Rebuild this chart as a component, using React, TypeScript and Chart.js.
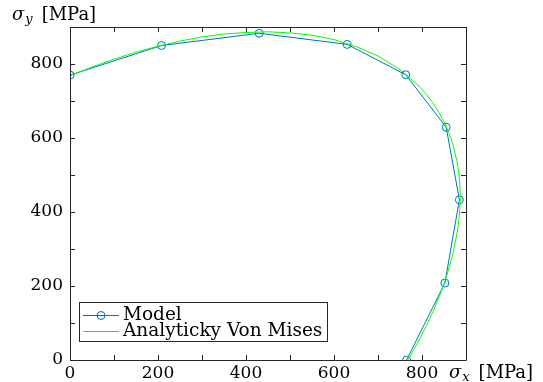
import { useEffect, useRef } from 'react';
import { Chart, registerables } from 'chart.js';

Chart.register(...registerables);

// Model (FEM) points
const modelX = [0, 208, 430, 630, 763, 855, 885, 852, 765];
const modelY = [770, 850, 883, 853, 771, 629, 433, 208, 0];

// Analytic Von Mises curve
const vmX = [0, 50, 100, 150, 200, 250, 300, 350, 400, 450, 500, 550, 600, 650, 700, 750, 790, 810, 825, 840, 850, 860, 870, 880, 884, 886, 887, 886, 884, 880, 870, 860, 850, 840, 825, 810, 800, 790, 780, 775, 768];
const vmY = [768, 792, 813, 832, 848, 862, 873, 881, 885, 887, 884, 878, 866, 847, 822, 785, 744, 718, 694, 666, 644, 617, 584, 535, 503, 476, 443, 410, 381, 345, 286, 243, 206, 174, 131, 92, 69, 46, 25, 14, 0];

const xTicks = [0, 100, 200, 300, 400, 500, 600, 700, 800, 900];
const yTicks = [0, 100, 200, 300, 400, 500, 600, 700, 800, 900];
const labeledTicks = [0, 200, 400, 600, 800];

const seriesNames = ['Model', 'Analyticky Von Mises'];
const axisUnit = '[MPa]';

const BLUE = '#0072BD';
const GREEN = '#00FF00';
const AXIS = '#262626';
const FONT = '"DejaVu Serif"';

const overlay = {
  id: 'matlabOverlay',
  afterDraw(chart: any) {
    const ctx = chart.ctx as CanvasRenderingContext2D;
    const { left, right, top, bottom } = chart.chartArea;
    const xs = chart.scales.x;
    const ys = chart.scales.y;
    ctx.save();
    // box
    ctx.strokeStyle = AXIS;
    ctx.lineWidth = 1;
    ctx.beginPath();
    ctx.rect(Math.round(left) + 0.5, Math.round(top) + 0.5, Math.round(right - left), Math.round(bottom - top));
    ctx.stroke();
    // inward ticks
    const tl = 5;
    ctx.beginPath();
    for (const v of xTicks) {
      const px = Math.round(xs.getPixelForValue(v)) + 0.5;
      ctx.moveTo(px, bottom);
      ctx.lineTo(px, bottom - tl);
      ctx.moveTo(px, top);
      ctx.lineTo(px, top + tl);
    }
    for (const v of yTicks) {
      const py = Math.round(ys.getPixelForValue(v)) + 0.5;
      ctx.moveTo(left, py);
      ctx.lineTo(left + tl, py);
      ctx.moveTo(right, py);
      ctx.lineTo(right - tl, py);
    }
    ctx.stroke();

    // axis titles
    ctx.fillStyle = '#000';
    ctx.textBaseline = 'alphabetic';
    ctx.textAlign = 'left';
    const drawTitle = (x: number, base: number, sub: string) => {
      ctx.font = `italic 18px ${FONT}`;
      ctx.fillText('σ', x, base);
      const w = ctx.measureText('σ').width;
      ctx.font = `italic 13px ${FONT}`;
      ctx.fillText(sub, x + w + 1, base + 3);
      const w2 = ctx.measureText(sub).width;
      ctx.font = `18px ${FONT}`;
      ctx.fillText(axisUnit, x + w + w2 + 10, base);
    };
    drawTitle(12, 20, 'y');
    drawTitle(449, 378, 'x');

    // legend
    const lx = 79.5, ly = 302.5, lw = 248, lh = 39;
    ctx.fillStyle = '#fff';
    ctx.fillRect(lx, ly, lw, lh);
    ctx.strokeStyle = AXIS;
    ctx.strokeRect(lx, ly, lw, lh);
    const rows = [315.5, 331.5];
    ctx.strokeStyle = BLUE;
    ctx.beginPath();
    ctx.moveTo(83, rows[0]);
    ctx.lineTo(119, rows[0]);
    ctx.stroke();
    ctx.beginPath();
    ctx.arc(101, rows[0], 4, 0, Math.PI * 2);
    ctx.stroke();
    ctx.strokeStyle = GREEN;
    ctx.beginPath();
    ctx.moveTo(83, rows[1]);
    ctx.lineTo(119, rows[1]);
    ctx.stroke();
    ctx.fillStyle = '#000';
    ctx.font = `18.5px ${FONT}`;
    ctx.textBaseline = 'middle';
    ctx.fillText(seriesNames[0], 123, rows[0]);
    ctx.fillText(seriesNames[1], 123, rows[1]);
    ctx.restore();
  },
};

export default function App() {
  const ref = useRef<HTMLCanvasElement | null>(null);
  useEffect(() => {
    if (!ref.current) return;
    const tickCb = (v: any) => (labeledTicks.includes(Number(v)) ? String(v) : '');
    const chart = new Chart(ref.current, {
      type: 'scatter',
      data: {
        datasets: [
          {
            label: seriesNames[0],
            data: modelX.map((x, i) => ({ x, y: modelY[i] })),
            showLine: true,
            borderColor: BLUE,
            borderWidth: 1,
            pointRadius: 4,
            pointBorderWidth: 1,
            pointBorderColor: BLUE,
            pointBackgroundColor: 'rgba(0,0,0,0)',
            order: 1,
          },
          {
            label: seriesNames[1],
            data: vmX.map((x, i) => ({ x, y: vmY[i] })),
            showLine: true,
            borderColor: GREEN,
            borderWidth: 1,
            pointRadius: 0,
            order: 0,
          },
        ],
      },
      options: {
        animation: false,
        responsive: false,
        events: [],
        layout: { padding: { top: 27, right: 77, left: 0, bottom: 0 } },
        plugins: { legend: { display: false }, tooltip: { enabled: false } },
        scales: {
          x: {
            type: 'linear',
            min: 0,
            max: 900,
            grid: { display: false, drawTicks: false },
            border: { display: false },
            afterFit: (s: any) => { s.height = 22; },
            afterBuildTicks: (s: any) => { s.ticks = xTicks.map((v) => ({ value: v })); },
            ticks: {
              autoSkip: false,
              maxRotation: 0,
              padding: 3,
              color: '#000',
              font: { family: 'DejaVu Serif', size: 17 },
              callback: tickCb,
            },
          },
          y: {
            type: 'linear',
            min: 0,
            max: 900,
            grid: { display: false, drawTicks: false },
            border: { display: false },
            afterFit: (s: any) => { s.width = 70; },
            afterBuildTicks: (s: any) => { s.ticks = yTicks.map((v) => ({ value: v })); },
            ticks: {
              autoSkip: false,
              padding: 7,
              color: '#000',
              font: { family: 'DejaVu Serif', size: 17 },
              callback: tickCb,
            },
          },
        },
      },
      plugins: [overlay],
    });
    return () => chart.destroy();
  }, []);
  return (
    <div style={{ position: 'absolute', left: 0, top: 0, width: 543, height: 382, background: '#fff' }}>
      <canvas ref={ref} width={543} height={382} style={{ display: 'block' }} />
    </div>
  );
}
